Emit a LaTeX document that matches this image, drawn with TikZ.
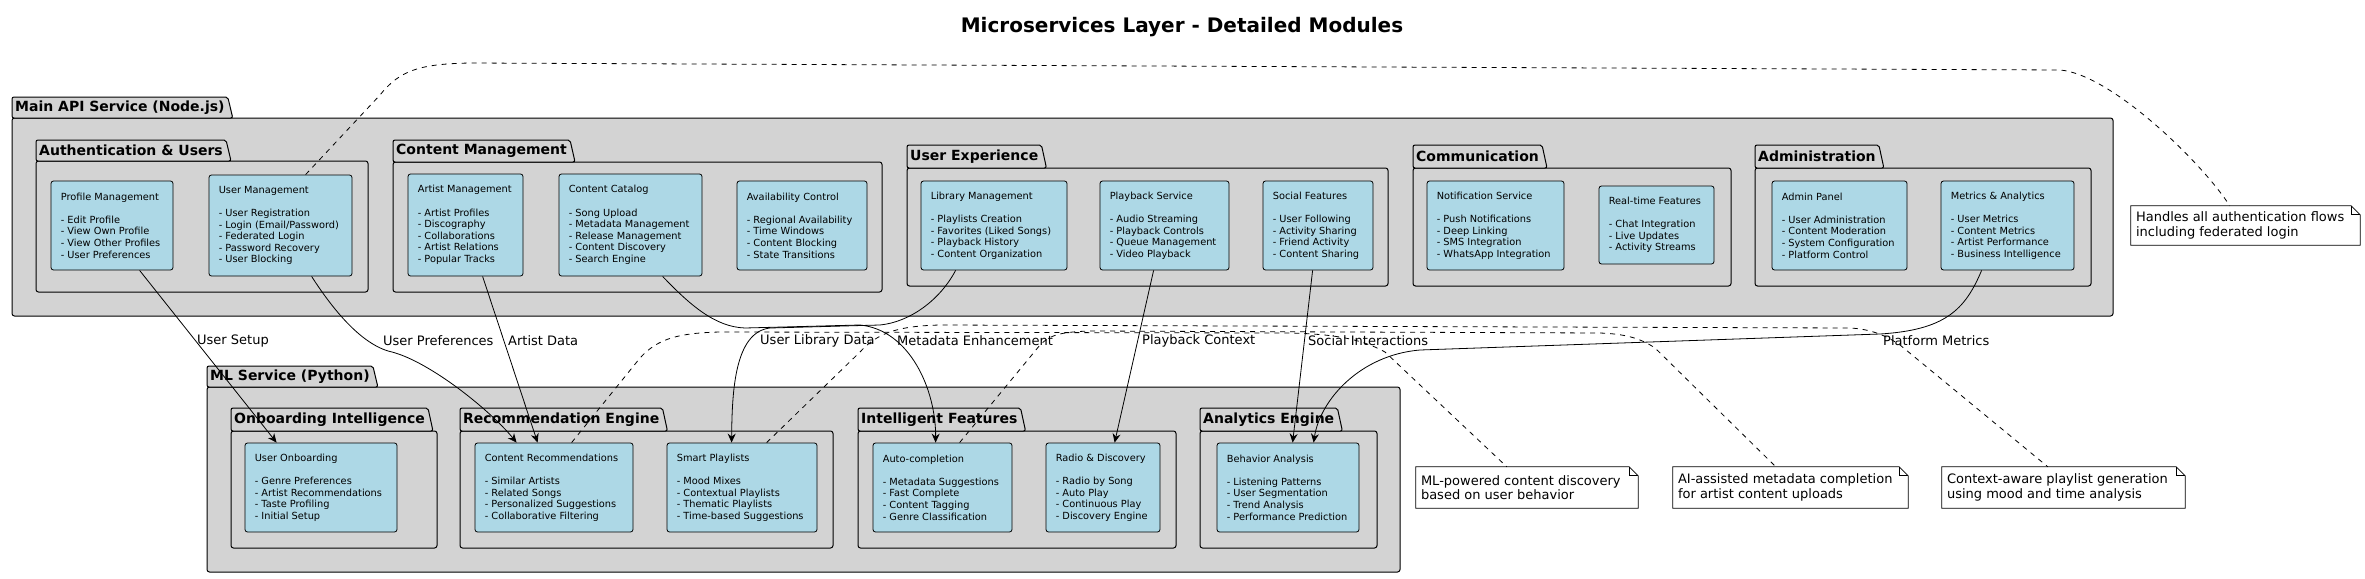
\documentclass[tikz,border=0pt]{standalone}
\usepackage{fontspec}
\setmainfont{DejaVu Sans}
\usetikzlibrary{arrows.meta,calc}
\definecolor{pkgfill}{HTML}{D3D3D3}
\definecolor{modfill}{HTML}{ADD8E6}
\tikzset{
  pkgline/.style={draw=black,fill=pkgfill,line width=1pt},
  pkgtitle/.style={anchor=west,inner sep=0pt,font=\bfseries\fontsize{14}{16}\selectfont},
  modshape/.style={draw=black,fill=modfill,rounded corners=2.5pt,line width=0.8pt,inner sep=0pt},
  modtext/.style={anchor=west,inner sep=0pt,align=left,font=\fontsize{9.8}{11.6}\selectfont},
  notes/.style={anchor=west,inner sep=0pt,align=left,font=\fontsize{13}{14.5}\selectfont},
  noteshape/.style={inner sep=0pt},
  noteline/.style={draw=black,line width=0.8pt},
  arr/.style={draw=black,line width=0.8pt,-{Stealth[length=9pt,width=8pt,inset=3pt]}},
  dsh/.style={draw=black,line width=0.8pt,dash pattern=on 5pt off 5pt},
  lbl/.style={anchor=west,inner sep=0pt,font=\fontsize{13}{15}\selectfont},
}
\newcommand\pkg[7]{%
  \draw[pkgline,rounded corners=2.5pt] (#2,#4) rectangle (#5,#6);
  \node[pkgtitle,text opacity=0] (#1t) at (#2+3,{(#3+#4)/2}) {#7};
  \coordinate (#1a) at ([xshift=3pt]#1t.east);
  \coordinate (#1b) at (#2,#3);
  \coordinate (#1c) at (#2,#4);
  \coordinate (#1e) at (#1a |- #1c);
  \draw[pkgline,rounded corners=2pt] (#1c) -- (#1b) -- (#1a |- #1b) -- ([xshift=5pt]#1e) -- cycle;
  \node[pkgtitle] at (#1t.west) {#7};
}
\newcommand\modbox[6]{%
  \pgfmathsetmacro\mw{#4-#2}%
  \pgfmathsetmacro\mh{#5-#3}%
  \node[modshape,minimum width=\mw pt,minimum height=\mh pt] (#1) at ({(#2+#4)/2},{(#3+#5)/2}) {};
  \node[modtext] (#1txt) at ([xshift=10pt]#1.west) {#6};
}
\newcommand\notebox[6]{%
  \pgfmathsetmacro\mw{#4-#2}%
  \pgfmathsetmacro\mh{#5-#3}%
  \node[noteshape,minimum width=\mw pt,minimum height=\mh pt] (#1) at ({(#2+#4)/2},{(#3+#5)/2}) {};
  \draw[noteline] (#1.south west) -- (#1.north west) -- ([xshift=-9pt]#1.north east) -- ([yshift=-9pt]#1.north east) -- (#1.south east) -- cycle;
  \draw[noteline] ([xshift=-9pt]#1.north east) -- ([xshift=-9pt,yshift=-9pt]#1.north east) -- ([yshift=-9pt]#1.north east);
  \node[notes] (#1txt) at ([xshift=5pt]#1.west) {#6};
}
\begin{document}
\begin{tikzpicture}[x=1pt,y=-1pt]
\useasboundingbox (0,0) rectangle (2365,578);
\fill[white] (0,0) rectangle (2365,578);
\node[font=\bfseries\fontsize{20}{24}\selectfont] (title) at (1182,27) {Microservices Layer - Detailed Modules};

% ---------- Main API ----------
\pkg{api}{12}{97}{118}{2113}{316}{Main API Service (Node.js)}
\pkg{auth}{36}{140}{161}{368}{292}{Authentication \& Users}
\pkg{cm}{393}{140}{162}{882}{292}{Content Management}
\pkg{ux}{907}{145}{168}{1388}{286}{User Experience}
\pkg{com}{1413}{145}{168}{1731}{286}{Communication}
\pkg{adm}{1755}{145}{168}{2091}{286}{Administration}

\modbox{pm}{51}{181}{173}{270}{Profile Management\\[11.6pt]- Edit Profile\\- View Own Profile\\- View Other Profiles\\- User Preferences}
\modbox{um}{209}{175}{352}{276}{User Management\\[11.6pt]- User Registration\\- Login (Email/Password)\\- Federated Login\\- Password Recovery\\- User Blocking}
\modbox{am}{408}{174}{523}{276}{Artist Management\\[11.6pt]- Artist Profiles\\- Discography\\- Collaborations\\- Artist Relations\\- Popular Tracks}
\modbox{cc}{559}{174}{702}{276}{Content Catalog\\[11.6pt]- Song Upload\\- Metadata Management\\- Release Management\\- Content Discovery\\- Search Engine}
\modbox{av}{737}{181}{867}{270}{Availability Control\\[11.6pt]- Regional Availability\\- Time Windows\\- Content Blocking\\- State Transitions}
\modbox{lm}{921}{181}{1067}{270}{Library Management\\[11.6pt]- Playlists Creation\\- Favorites (Liked Songs)\\- Playback History\\- Content Organization}
\modbox{ps}{1100}{181}{1229}{270}{Playback Service\\[11.6pt]- Audio Streaming\\- Playback Controls\\- Queue Management\\- Video Playback}
\modbox{sf}{1263}{181}{1373}{270}{Social Features\\[11.6pt]- User Following\\- Activity Sharing\\- Friend Activity\\- Content Sharing}
\modbox{ns}{1427}{181}{1564}{270}{Notification Service\\[11.6pt]- Push Notifications\\- Deep Linking\\- SMS Integration\\- WhatsApp Integration}
\modbox{rt}{1599}{186}{1714}{264}{Real-time Features\\[11.6pt]- Chat Integration\\- Live Updates\\- Activity Streams}
\modbox{ap}{1772}{181}{1907}{270}{Admin Panel\\[11.6pt]- User Administration\\- Content Moderation\\- System Configuration\\- Platform Control}
\modbox{ma}{1941}{181}{2074}{270}{Metrics \& Analytics\\[11.6pt]- User Metrics\\- Content Metrics\\- Artist Performance\\- Business Intelligence}

% ---------- ML Service ----------
\pkg{ml}{207}{366}{387}{1400}{572}{ML Service (Python)}
\pkg{onb}{231}{408}{431}{437}{548}{Onboarding Intelligence}
\pkg{rec}{460}{408}{431}{833}{548}{Recommendation Engine}
\pkg{intl}{858}{408}{431}{1176}{548}{Intelligent Features}
\pkg{ana}{1200}{408}{431}{1377}{548}{Analytics Engine}

\modbox{uo}{245}{443}{397}{532}{User Onboarding\\[11.6pt]- Genre Preferences\\- Artist Recommendations\\- Taste Profiling\\- Initial Setup}
\modbox{cr}{475}{443}{633}{532}{Content Recommendations\\[11.6pt]- Similar Artists\\- Related Songs\\- Personalized Suggestions\\- Collaborative Filtering}
\modbox{sp}{667}{443}{817}{532}{Smart Playlists\\[11.6pt]- Mood Mixes\\- Contextual Playlists\\- Thematic Playlists\\- Time-based Suggestions}
\modbox{ac}{873}{443}{1012}{532}{Auto-completion\\[11.6pt]- Metadata Suggestions\\- Fast Complete\\- Content Tagging\\- Genre Classification}
\modbox{rd}{1046}{443}{1160}{532}{Radio \& Discovery\\[11.6pt]- Radio by Song\\- Auto Play\\- Continuous Play\\- Discovery Engine}
\modbox{ba}{1217}{443}{1359}{532}{Behavior Analysis\\[11.6pt]- Listening Patterns\\- User Segmentation\\- Trend Analysis\\- Performance Prediction}

% ---------- Notes ----------
\notebox{n1}{2131}{206}{2360}{245}{Handles all authentication flows\\including federated login}
\notebox{n2}{1416}{467}{1638}{508}{ML-powered content discovery\\based on user behavior}
\notebox{n3}{1673}{467}{1908}{508}{AI-assisted metadata completion\\for artist content uploads}
\notebox{n4}{1942}{467}{2185}{508}{Context-aware playlist generation\\using mood and time analysis}

% ---------- dashed note links ----------
\draw[dsh] ([xshift=97pt]um.north west) -- (380,95) .. controls (400,70) and (420,64) .. (470,63) -- (2060,70) .. controls (2110,74) and (2200,160) .. ([xshift=99pt]n1.north west);
\draw[dsh] ([xshift=97pt]cr.north west) -- (640,358) .. controls (658,338) and (680,333) .. (720,332) -- (1290,333) .. controls (1330,334) and (1360,338) .. (1385,352) -- ([xshift=91pt]n2.north west);
\draw[dsh] ([xshift=87pt]ac.north west) -- (1040,345) .. controls (1050,335) and (1060,332) .. (1090,331) -- (1600,333) .. controls (1625,334) and (1640,338) .. (1655,348) -- ([xshift=103pt]n3.north west);
\draw[dsh] ([xshift=100pt]sp.north west) -- (860,352) .. controls (878,332) and (900,326) .. (940,325) -- (1850,328) .. controls (1870,329) and (1885,335) .. (1900,345) -- ([xshift=106pt]n4.north west);

% ---------- solid arrows ----------
\draw[arr] ([xshift=89pt]pm.south west) -- ([xshift=32pt]uo.north west);
\draw[arr] ([xshift=103pt]um.south west) .. controls (330,305) and (360,345) .. (392,352) .. controls (430,362) and (490,410) .. ([xshift=42pt]cr.north west);
\draw[arr] ([xshift=75pt]am.south west) -- ([xshift=63pt]cr.north west);
\draw[arr] ([xshift=104pt]cc.south west) .. controls (690,305) and (715,327) .. (745,328) -- (860,325) .. controls (910,330) and (936,390) .. ([xshift=63pt]ac.north west);
\draw[arr] ([xshift=35pt]lm.south west) .. controls (940,300) and (910,322) .. (880,325) -- (770,328) .. controls (735,332) and (732,390) .. ([xshift=65pt]sp.north west);
\draw[arr] ([xshift=54pt]ps.south west) -- ([xshift=69pt]rd.north west);
\draw[arr] ([xshift=50pt]sf.south west) -- ([xshift=76pt]ba.north west);
\draw[arr] ([xshift=41pt]ma.south west) .. controls (1965,310) and (1945,330) .. (1880,334) -- (1420,350) .. controls (1360,355) and (1320,400) .. ([xshift=97pt]ba.north west);

% ---------- labels ----------
\node[lbl] (l1) at (197,341) {User Setup};
\node[lbl] (l2) at (383,341) {User Preferences};
\node[lbl] (l3) at (508,341) {Artist Data};
\node[lbl] (l4) at (760,341) {User Library Data};
\node[lbl] (l5) at (897,341) {Metadata Enhancement};
\node[lbl] (l6) at (1142,341) {Playback Context};
\node[lbl] (l7) at (1308,341) {Social Interactions};
\node[lbl] (l8) at (1883,341) {Platform Metrics};
\end{tikzpicture}
\end{document}
